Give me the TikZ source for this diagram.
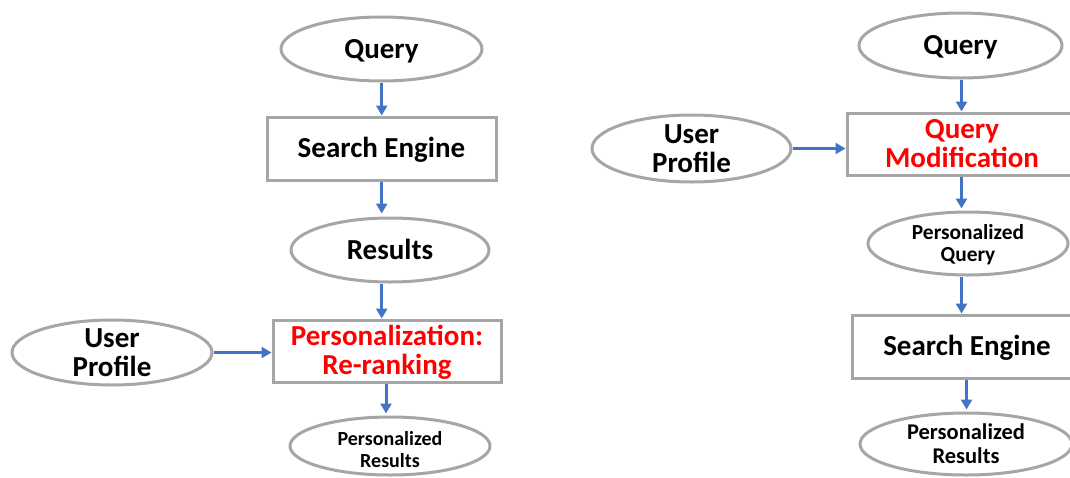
\documentclass[tikz,border=0pt]{standalone}
\usepackage{fontspec}
\setmainfont{Carlito}
\usetikzlibrary{shapes.geometric,arrows.meta}
\definecolor{edgegray}{RGB}{166,166,166}
\definecolor{flowblue}{RGB}{68,114,196}
\definecolor{hired}{RGB}{255,0,0}
% struts for the first and last lines, so text is centred on its line box
\newcommand\lnhi{\rule{0pt}{0.95em}}
\newcommand\lnlo{\rule[-0.31em]{0pt}{0.31em}}

\begin{document}
\begin{tikzpicture}[x=1pt,y=-1pt,
  % negative inner sep keeps the outline at its minimum size
  oval/.style={ellipse, draw=edgegray, line width=3pt, inner sep=-15pt, align=center,
    font=\bfseries\fontsize{29}{29}\selectfont},
  box/.style={rectangle, draw=edgegray, line width=3pt, inner sep=-15pt, align=center,
    minimum width=229pt, minimum height=63pt, font=\bfseries\fontsize{29}{29}\selectfont},
  smalltext/.style={font=\bfseries\fontsize{20}{22}\selectfont},
  redtext/.style={text=hired},
  flow/.style={draw=flowblue, line width=3pt, -{Triangle[length=10pt,width=11pt]}},
]
\useasboundingbox (0,0) rectangle (1070,477);
\clip (0,0) rectangle (1070,477);

% left pipeline: search, then re-rank
\node[oval, minimum width=201pt, minimum height=64pt] (lq) at (381.5,49) {\lnhi Query\lnlo};
\node[box] (lse) at (381.5,148.5) {\lnhi Search Engine\lnlo};
\node[oval, minimum width=198pt, minimum height=64pt] (lres) at (390,250) {\lnhi Results\lnlo};
\node[box, redtext, minimum width=228pt, minimum height=62pt] (lpers) at (387,351) {\lnhi Personalization:\\Re-ranking\lnlo};
\node[oval, smalltext, minimum width=200pt, minimum height=58pt] (lout) at (390,446) {\rule{0pt}{1.35em}Personalized\\Results\lnlo};
\node[oval, minimum width=200pt, minimum height=65pt] (lup) at (112,352.5) {\lnhi User\\Profile\lnlo};

\coordinate (la) at (381.7,0);
\coordinate (lb) at (386,0);
\draw[flow] (lq.south -| la) -- (lse.north -| la);
\draw[flow, shorten >=3pt] (lse.south -| la) -- (lres.north -| la);
\draw[flow] (lres.south -| la) -- (lpers.north -| la);
\draw[flow, shorten >=2pt] (lpers.south -| lb) -- (lout.north -| lb);
\draw[flow] (lup.east) -- (lpers.west |- lup.east);

% right pipeline: modify the query, then search
\node[oval, minimum width=203pt, minimum height=65pt] (rq) at (960.5,45.5) {\lnhi Query\lnlo};
\node[box, redtext, minimum width=230pt, minimum height=62pt] (rmod) at (962,144) {\lnhi Query\\Modification\lnlo};
\node[oval, minimum width=199pt, minimum height=67pt] (rup) at (691.5,148.5) {\lnhi User\\Profile\lnlo};
\node[oval, font=\bfseries\fontsize{21.4}{22}\selectfont, minimum width=200pt, minimum height=63pt] (rpq) at (968,243.5) {\lnhi Personalized\\Query\lnlo};
\node[box, minimum width=230pt, minimum height=63pt] (rse) at (967,346.5) {\lnhi Search Engine\lnlo};
\node[oval, font=\bfseries\fontsize{22.5}{24}\selectfont, minimum width=212pt, minimum height=62pt] (rout) at (966,444) {\lnhi Personalized\\Results\lnlo};

\coordinate (ra) at (961.5,0);
\coordinate (rb) at (966.5,0);
\draw[flow] (rq.south -| ra) -- (rmod.north -| ra);
\draw[flow] (rup.east) -- (rmod.west |- rup.east);
\draw[flow, shorten >=2pt] (rmod.south -| ra) -- (rpq.north -| ra);
\draw[flow] (rpq.south -| ra) -- (rse.north -| ra);
\draw[flow, shorten >=2pt] (rse.south -| rb) -- (rout.north -| rb);
\end{tikzpicture}
\end{document}
